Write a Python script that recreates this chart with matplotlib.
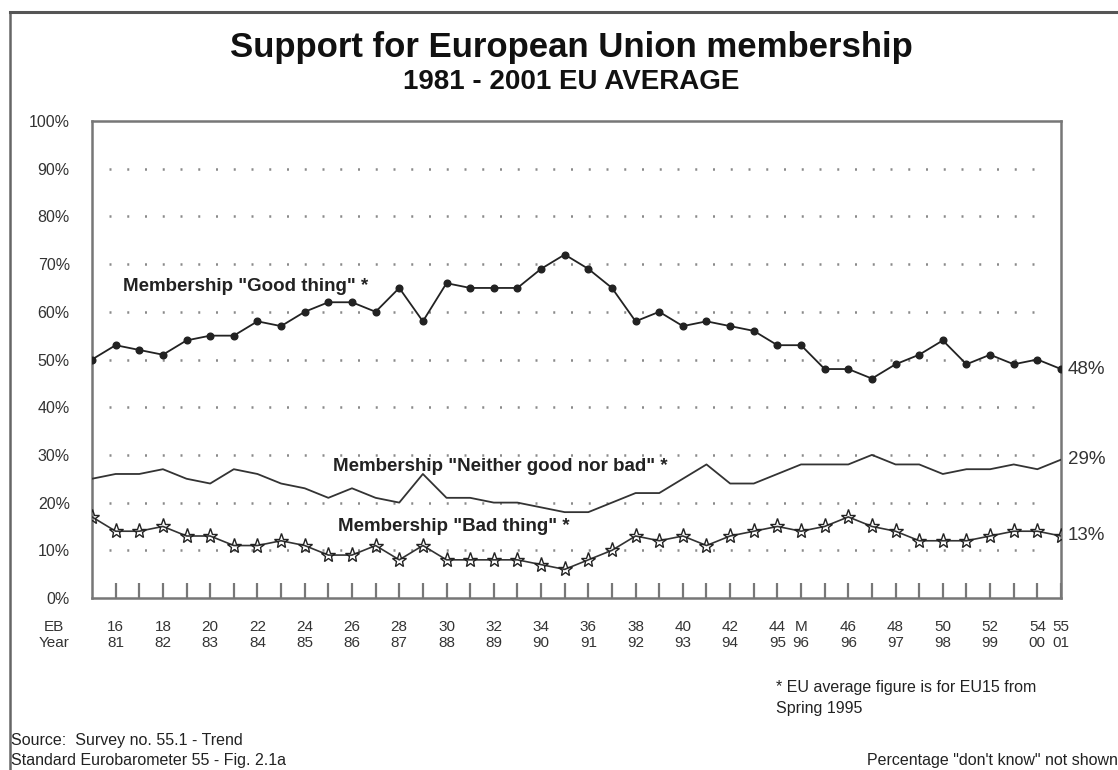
import matplotlib.pyplot as plt
from matplotlib.lines import Line2D

# Eurobarometer survey waves (EB 15 .. EB 55, with the extra "M" wave of 1996)
surveys = [str(n) for n in range(15, 45)] + ['M'] + [str(n) for n in range(45, 56)]

good = [50, 53, 52, 51, 54, 55, 55, 58, 57, 60, 62, 62, 60, 65, 58, 66, 65, 65, 65, 69,
        72, 69, 65, 58, 60, 57, 58, 57, 56, 53, 53, 48, 48, 46, 49, 51, 54, 49, 51, 49,
        50, 48]
neither = [25, 26, 26, 27, 25, 24, 27, 26, 24, 23, 21, 23, 21, 20, 26, 21, 21, 20, 20, 19,
           18, 18, 20, 22, 22, 25, 28, 24, 24, 26, 28, 28, 28, 30, 28, 28, 26, 27, 27, 28,
           27, 29]
bad = [17, 14, 14, 15, 13, 13, 11, 11, 12, 11, 9, 9, 11, 8, 11, 8, 8, 8, 8, 7,
       6, 8, 10, 13, 12, 13, 11, 13, 14, 15, 14, 15, 17, 15, 14, 12, 12, 12, 13, 14,
       14, 13]

eb_labels = ['16', '18', '20', '22', '24', '26', '28', '30', '32', '34', '36', '38', '40',
             '42', '44', 'M', '46', '48', '50', '52', '54', '55']
year_labels = ['81', '82', '83', '84', '85', '86', '87', '88', '89', '90', '91', '92', '93',
               '94', '95', '96', '96', '97', '98', '99', '00', '01']
y_ticks = [0, 10, 20, 30, 40, 50, 60, 70, 80, 90, 100]

plt.rcParams['font.family'] = ['Liberation Sans', 'DejaVu Sans']

fig = plt.figure(figsize=(11.18, 7.70), dpi=100)
ax = fig.add_axes([92 / 1118, 1 - 598 / 770, 969 / 1118, 477 / 770])

x = list(range(len(surveys)))

# dotted gridlines
for v in y_ticks[1:-1]:
    ax.axhline(v, xmin=0.018, xmax=0.985, color='#8a8a8a', lw=1.8,
               linestyle=(0, (0.8, 6.3)), zorder=1)

ax.plot(x, good, color='#222222', lw=1.3, marker='o', ms=4.8, zorder=3)
ax.plot(x, neither, color='#333333', lw=1.3, zorder=3)
ax.plot(x, bad, color='#333333', lw=1.2, marker='*', ms=11, mfc='none',
        mec='#222222', mew=1.0, zorder=3)

ax.set_xlim(0, len(surveys) - 1)
ax.set_ylim(0, 100)

for s in ax.spines.values():
    s.set_color('#777777')
    s.set_linewidth(1.8)

label_idx = [surveys.index(s) for s in eb_labels]
ax.set_xticks(label_idx)
ax.set_xticklabels([f'{e}\n{y}' for e, y in zip(eb_labels, year_labels)])
ax.set_xticks(x[1:-1], minor=True)
ax.tick_params(axis='x', which='both', direction='in', length=11, width=1.6,
               color='#777777', top=False)
ax.tick_params(axis='x', which='major', pad=16, labelsize=11, labelcolor='#333333')
ax.set_yticks(y_ticks)
ax.set_yticklabels([f'{v}%' for v in y_ticks])
ax.tick_params(axis='y', length=0, pad=16, labelsize=11.5, labelcolor='#333333')

ax.annotate('EB\nYear', xy=(0, 0), xycoords='axes fraction', xytext=(-16, -16),
            textcoords='offset points', ha='right', va='top', ma='center',
            fontsize=11, color='#333333')

# series names
ax.text(1.3, 65.4, 'Membership "Good thing" *', fontsize=13.5, fontweight='bold',
        color='#222222', va='center')
ax.text(10.2, 27.5, 'Membership "Neither good nor bad" *', fontsize=13.5,
        fontweight='bold', color='#222222', va='center')
ax.text(10.4, 14.9, 'Membership "Bad thing" *', fontsize=13.5, fontweight='bold',
        color='#222222', va='center')

# end values
for series in (good, neither, bad):
    ax.annotate(f'{series[-1]}%', xy=(x[-1], series[-1]), xytext=(5, 0),
                textcoords='offset points', va='center', ha='left',
                fontsize=13.5, color='#333333', annotation_clip=False)

fig.text(0.511, 1 - 48 / 770, 'Support for European Union membership', ha='center',
         va='center', fontsize=25, fontweight='bold', color='#111111')
fig.text(0.511, 1 - 82 / 770, '1981 - 2001 EU AVERAGE', ha='center', va='center',
         fontsize=20, fontweight='bold', color='#111111')

fig.text(776 / 1118, 1 - 698 / 770, '* EU average figure is for EU15 from\nSpring 1995',
         ha='left', va='center', fontsize=11.5, color='#222222', linespacing=1.5)
fig.text(11 / 1118, 1 - 741 / 770, 'Source:  Survey no. 55.1 - Trend', ha='left',
         va='center', fontsize=11.5, color='#222222')
fig.text(11 / 1118, 1 - 761 / 770, 'Standard Eurobarometer 55 - Fig. 2.1a', ha='left',
         va='center', fontsize=11.5, color='#222222')
fig.text(1118 / 1118, 1 - 761 / 770, 'Percentage "don\'t know" not shown', ha='right',
         va='center', fontsize=11.5, color='#222222')

# outer frame
fig.add_artist(Line2D([10 / 1118, 10 / 1118], [0, 1 - 12 / 770],
                      transform=fig.transFigure, color='#666666', lw=1.8))
fig.add_artist(Line2D([10 / 1118, 1], [1 - 12 / 770, 1 - 12 / 770],
                      transform=fig.transFigure, color='#555555', lw=2.2))

fig.savefig('out.png', dpi=100)
